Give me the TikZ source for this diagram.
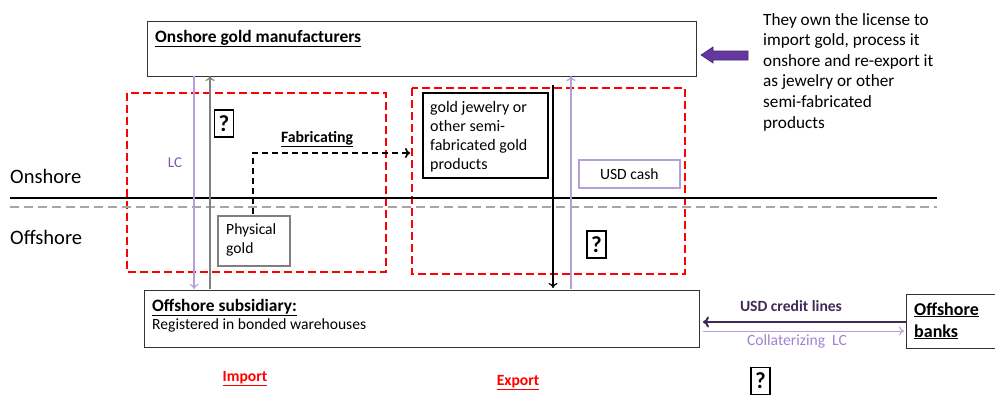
\documentclass[tikz,border=0pt]{standalone}
\usepackage{fontspec}
\setmainfont{Carlito}
\usetikzlibrary{arrows.meta}
\definecolor{lpurple}{HTML}{B49FD8}
\definecolor{lclab}{HTML}{7E57B0}
\definecolor{collab}{HTML}{9E84CE}
\definecolor{dpurple}{HTML}{3F2A56}
\definecolor{bpurple}{HTML}{6438A0}
\definecolor{bpurpled}{HTML}{46266F}
\definecolor{dgray}{HTML}{7F7F7F}
\definecolor{lgray}{HTML}{A6A6A6}
\tikzset{
  mainbox/.style={draw=black!80, line width=0.9pt, anchor=north west, inner sep=0pt},
  redbox/.style={draw=red, line width=1.8pt, dash pattern=on 8pt off 4pt},
  qbox/.style={draw, line width=1.4pt, inner sep=0pt, minimum width=19pt, minimum height=27pt, font=\fontsize{23}{23}\selectfont\bfseries},
  txt/.style={font=\fontsize{15.6}{19}\selectfont, align=left, inner sep=0pt, anchor=north west},
  titletxt/.style={font=\fontsize{17.4}{19}\selectfont\bfseries, inner sep=0pt, anchor=base west},
  bigtxt/.style={font=\fontsize{17.2}{20.6}\selectfont, align=left, inner sep=0pt, anchor=north west},
  lab/.style={font=\fontsize{15.6}{15.6}\selectfont, inner sep=0pt},
  thin arrow/.style={line width=1.1pt, -{To[length=5pt,width=9pt]}},
}
\begin{document}
\begin{tikzpicture}[x=1pt,y=-1pt]
\useasboundingbox (0,0) rectangle (995,394);

% region boxes
\draw[redbox] (127,93) rectangle (386,272);
\draw[redbox] (412,88) rectangle (685,274);

% onshore/offshore lines
\coordinate (lineL) at (10,198);
\coordinate (lineR) at (937,198);
\draw[line width=1.8pt] (lineL) -- (lineR);
\draw[lgray, line width=1.6pt, dash pattern=on 9pt off 5pt] (10,207) -- (937,207);
\node[font=\fontsize{20.5}{20.5}\selectfont, anchor=west, inner sep=0pt] (onsh) at (10,176) {Onshore};
\node[font=\fontsize{20.5}{20.5}\selectfont, anchor=west, inner sep=0pt] (offsh) at (10,237) {Offshore};

% top box
\node[mainbox, minimum width=549pt, minimum height=55pt] (top) at (147,21) {};
\node[titletxt] (toptitle) at (155,42) {\underline{Onshore gold manufacturers}};

% bottom box
\node[mainbox, minimum width=555pt, minimum height=57pt] (bot) at (144,290) {};
\node[titletxt] (bottitle) at (152,311) {\underline{Offshore subsidiary:}};
\node[lab, anchor=base west] (botsub) at (152,329) {Registered in bonded warehouses};

% offshore banks
\node[mainbox, minimum width=95pt, minimum height=54pt] (banks) at (906,294) {};
\node[font=\fontsize{18}{22}\selectfont\bfseries, inner sep=0pt, anchor=base west] (banks1) at (914,315) {\underline{Offshore}};
\node[font=\fontsize{18}{22}\selectfont\bfseries, inner sep=0pt, anchor=base west] (banks2) at (914,337) {\underline{banks}};

% right text and block arrow
\node[bigtxt] (note) at (763,13) {They own the license to\\import gold, process it\\onshore and re-export it\\as jewelry or other\\semi-fabricated\\products};
\fill[bpurple, draw=bpurpled, line width=0.6pt] (748,51) -- (713,51) -- (713,47) -- (701,55) -- (713,63) -- (713,60) -- (748,60) -- cycle;

% LC lines
\coordinate (lcT) at (194,76);
\coordinate (lcB) at (194,289);
\draw[lpurple, thin arrow] (lcT) -- (lcB);
\node[font=\fontsize{15}{15}\selectfont, text=lclab, inner sep=0pt] (lclab) at (175,163) {LC};
\coordinate (gT) at (210,76);
\coordinate (gB) at (210,289);
\draw[dgray, thin arrow] (gB) -- (gT);

% physical gold
\node[draw=dgray, line width=1.6pt, minimum width=72pt, minimum height=50pt, anchor=north west, inner sep=0pt] (phys) at (217,215) {};
\node[txt] (phystxt) at (226,223) {Physical\\gold};

% jewelry box
\node[draw, line width=2pt, minimum width=125pt, minimum height=85pt, anchor=north west, inner sep=0pt] (jew) at (422,92) {};
\node[txt, font=\fontsize{16}{19}\selectfont] (jewtxt) at (430,101) {gold jewelry or\\other semi-\\fabricated gold\\products};

% fabricating arrow
\coordinate (fabE) at (410,153);
\draw[line width=1.6pt, dash pattern=on 6pt off 4pt, -{To[length=5pt,width=10pt]}] (253,214) |- (fabE);
\node[font=\fontsize{15.8}{15.8}\selectfont\bfseries, inner sep=0pt, anchor=base] (fablab) at (317,142) {\underline{Fabricating}};

% export arrows
\coordinate (exT) at (553,85);
\coordinate (exB) at (553,288);
\draw[line width=1.2pt, -{To[length=5pt,width=9pt]}] (exT) -- (exB);
\coordinate (cashB) at (571,289);
\coordinate (cashT) at (571,76);
\draw[lpurple, thin arrow] (cashB) -- (cashT);
\node[draw=lpurple, line width=1.6pt, minimum width=101pt, minimum height=28pt, anchor=north west, inner sep=0pt] (cash) at (578,159) {};
\node[lab] (cashtxt) at (cash.center) {USD cash};

% bank arrows
\coordinate (credE) at (703,322);
\draw[dpurple, line width=2pt, -{To[length=6pt,width=11pt]}] (banks.west |- credE) -- (credE);
\node[lab, font=\fontsize{15.6}{15.6}\selectfont\bfseries, text=dpurple] (credlab) at (791,306) {USD credit lines};
\coordinate (colS) at (703,331);
\coordinate (colE) at (904,331);
\draw[lpurple, line width=1pt, -{To[length=5pt,width=9pt]}] (colS) -- (colE);
\node[lab, text=collab] (collab) at (797,341) {Collaterizing\ \ LC};

% question boxes
\node[qbox] (q1) at (224,123.5) {?};
\node[qbox] (q2) at (596.5,244.5) {?};
\node[qbox] (q3) at (760.5,381) {?};

% import / export
\node[lab, font=\fontsize{15.6}{15.6}\selectfont\bfseries, text=red] (imp) at (245,379) {\underline{Import}};
\node[lab, font=\fontsize{15.6}{15.6}\selectfont\bfseries, text=red] (exp) at (518,383) {\underline{Export}};
\end{tikzpicture}
\end{document}
